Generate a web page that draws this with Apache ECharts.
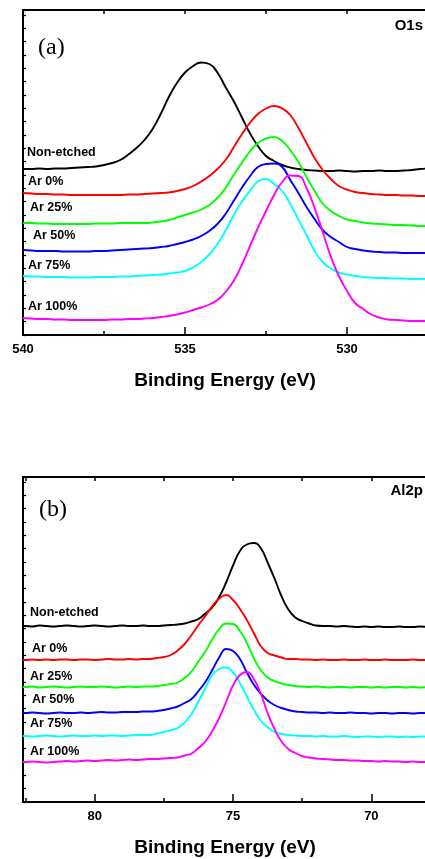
<!DOCTYPE html>
<html><head><meta charset="utf-8">
<script src="https://cdn.jsdelivr.net/npm/echarts@6/dist/echarts.min.js"></script>
<style>html,body{margin:0;padding:0;background:#fff}#c{width:425px;height:859px}</style>
</head><body><div id="c"></div>
<script>
// ---------- Panel (a): O1s ----------
const o1sEnergy = [540,539.75,539.5,539.25,539,538.75,538.5,538.25,538,537.75,
  537.5,537.25,537,536.75,536.5,536.25,536,535.75,535.5,535.25,
  535,534.75,534.5,534.25,534,533.75,533.5,533.25,533,532.75,
  532.5,532.25,532,531.75,531.5,531.25,531,530.75,530.5,530.25,
  530,529.75,529.5,529.25,529,528.75,528.5,528.25,528,527.75,
  527.5];
const o1sNonEtched = [166,166,166.5,166,166.5,166.5,167,167.5,168,168.5,
  170,172,175,180.5,187,195,206,221,238,252,
  262.5,269,272.5,271,262.5,248,234,218,202,189,
  179,174,170,167.5,166,165,164.5,164,164,164.5,
  164,163.5,164,164,164.5,164,164,164.5,165,166,
  166.5];
const o1sAr0 = [142,141.5,141,141,140.5,140.5,140,140,140,140,
  140,140,140,140.5,140.5,141,141.5,142,142.5,144,
  146,149,153.5,159,166,175,187.5,200.5,212,221,
  226.5,229,226.5,220,207,192,177,165,156,149,
  145.5,143,142,141,140.5,140,140,139.5,139.5,139,
  139];
const o1sAr25 = [112,112,111.5,111.5,111,111,111,111,111,111.5,
  111.5,111.5,112,112,112,112,112.5,113.5,115,117.5,
  120,122.5,125.5,130,137,147,160,172,183.5,192,
  196.5,198,194,185,173,158,144,131.5,124,119,
  115.5,114,112.5,111.5,111,110.5,110,110,109.5,109,
  109];
const o1sAr50 = [85,84.5,84,84,84,83.5,83.5,83.5,83.5,84,
  84,84.5,85,85.5,86,86.5,87,88,89,91,
  93,95.5,99,104,111,121,134,147,158.5,168,
  171,171.5,168,155,142,128,116,105,98,93,
  88,86,84.5,83.5,83,82.5,82.5,82,82,82,
  82];
const o1sAr75 = [59,58.5,58.5,58,58,58,57.5,57.5,57.5,58,
  58,58,58.5,58.5,59,59.5,60,60.5,61.5,62.5,
  64,67.5,73,80.5,91,104.5,119.5,133,144,153.5,
  156,151,144,131,115.5,100,84,73,66.5,62.5,
  60.5,59,58,57.5,57,57,56.5,56.5,56,56,
  56];
const o1sAr100 = [17,16.5,16,16,15.5,15.5,15,15,15,15,
  15,15.5,15.5,16,16,16.5,17,18,19,20.5,
  22.5,25,27.5,30.5,35,43,54,70,88.5,107,
  124,140,153,159.5,159,147,127,103,78.5,59,
  44,32,26,20.5,17.5,15.5,15,14.5,14,14,
  14];

// ---------- Panel (b): Al2p ----------
const al2pEnergy = [82.6,82.5,82.25,82,81.75,81.5,81.25,81,80.75,80.5,
  80.25,80,79.75,79.5,79.25,79,78.75,78.5,78.25,78,
  77.75,77.5,77.25,77,76.75,76.5,76.25,76,75.75,75.5,
  75.25,75,74.75,74.5,74.25,74,73.75,73.5,73.25,73,
  72.75,72.5,72.25,72,71.75,71.5,71.25,71,70.75,70.5,
  70.25,70,69.75,69.5,69.25,69,68.75,68.5,68.25,68];
const al2pNonEtched = [176,176,175.5,176.5,176,175.5,176,176.5,176,175.5,
  176,176.5,176,175.5,176,176.5,176,176,176.5,176,
  176,176.5,177,177.5,178.5,180.5,183,188.5,194.5,205,
  219.5,236.5,251,257.5,259,254,239.5,223.5,206,192.5,
  184.5,181,178.5,176.5,176,176,175.5,176,175.5,175,
  175.5,175,175.5,175,175,175.5,175,175,175.5,175];
const al2pAr0 = [142,142,142.5,142,142.5,142,142.5,142.5,142,142.5,
  142.5,142,142.5,143,142.5,142.5,143,142.5,143,143,
  144,145,147,151.5,158,167,177,186,196,203.5,
  207,202,193,182,169,156,149,146.5,144.5,143,
  143,142.5,142.5,142,142.5,142,142,142.5,142,142,
  142.5,142,142,142.5,142,142,142,142.5,142,142];
const al2pAr25 = [115,115,115.5,114.5,115,115.5,115,114.5,115,115.5,
  115,115,115.5,115,114.5,115,115.5,115,115.5,115.5,
  116,117,118,119.5,124,130.5,140.5,150.5,162.5,173,
  178.5,178,171,159,144,132,124.5,121,118.5,117,
  116,115.5,115,115.5,115,114.5,115,115,114.5,115,
  115,114.5,115,114.5,115,115,114.5,115,114.5,115];
const al2pAr50 = [89,89,89.5,89,88.5,89,89.5,89,89,89.5,
  89,89.5,90,89.5,89.5,90,90,90,90.5,90.5,
  91,92,93.5,95.5,99,103,111,120,132,144.5,
  153,151,143,129.5,117.5,108.5,101.5,97,94,92,
  90.5,90,89.5,89.5,89,89.5,89,89,89.5,89,
  89,88.5,89,89,88.5,89,89,88.5,89,89];
const al2pAr75 = [66,66,65.5,66,66.5,66,65.5,66,66.5,66,
  66,66.5,66,66.5,66.5,66,66.5,67,67,67,
  68.5,70,72,74,79.5,88,100.5,113.5,127,133,
  134.5,129.5,119,105.5,92.5,81.5,75,70,68,67,
  66.5,66,66,65.5,66,65.5,65.5,66,65.5,65,
  65.5,65.5,65,65.5,65.5,65,65.5,65,65.5,65.5];
const al2pAr100 = [40,40,40.5,40,39.5,40,40.5,41,40.5,41,
  41.5,41,41.5,42,41.5,42,42.5,42,42.5,43,
  43,43.5,44,44.5,46.5,48.5,54,60.5,71,84,
  100,116.5,127,130,123,108.5,89,73,60.5,53,
  49,46,44.5,43.5,43,42.5,42,42,41.5,41.5,
  41,41,40.5,41,40.5,40.5,40,40.5,40,40];

const seriesNames = ['Non-etched','Ar 0%','Ar 25%','Ar 50%','Ar 75%','Ar 100%'];
const seriesColors = ['#000000','#ff0000','#00ff00','#0000ff','#00ffff','#ff00ff'];
const o1sSeries = [o1sNonEtched,o1sAr0,o1sAr25,o1sAr50,o1sAr75,o1sAr100];
const al2pSeries = [al2pNonEtched,al2pAr0,al2pAr25,al2pAr50,al2pAr75,al2pAr100];
const o1sTickLabels = [540,535,530];
const al2pTickLabels = [80,75,70];

// ---------- layout ----------
const FONT = '"Liberation Sans", Arial, Helvetica, sans-serif';
const pxPerEvA = 32.4, pxPerEvB = 27.67;
const gA = {left:23, top:10, width:(540-525)*pxPerEvA, height:325};
const gB = {left:23, top:477, width:(82.59-65)*pxPerEvB, height:325};

function mkGrid(g){ return Object.assign({containLabel:false, outerBoundsMode:'none'}, g); }

function majorX(gi, min, max, labels){
  return {gridIndex:gi, type:'value', inverse:true, min:min, max:max, interval:5, position:'bottom',
    axisLine:{show:true, onZero:false, lineStyle:{color:'#000', width:2}},
    axisTick:{show:true, inside:true, length:8, lineStyle:{color:'#000', width:1.5}},
    minorTick:{show:false}, splitLine:{show:false},
    axisLabel:{show:true, margin:8, color:'#000', fontWeight:'bold', fontSize:13, fontFamily:FONT,
      formatter:function(v){ return labels.indexOf(Math.round(v*100)/100)>=0 ? String(v) : ''; }}};
}
function topX(gi, min, max){
  return {gridIndex:gi, type:'value', inverse:true, min:min, max:max, interval:2.5, position:'top',
    axisLine:{show:true, onZero:false, lineStyle:{color:'#000', width:2}},
    axisTick:{show:true, inside:true, length:4, lineStyle:{color:'#000', width:1.5}},
    axisLabel:{show:false}, splitLine:{show:false}};
}
function minorX(gi, min, max){
  return {gridIndex:gi, type:'value', inverse:true, min:min, max:max, interval:2.5, position:'bottom',
    axisLine:{show:false, onZero:false},
    axisTick:{show:true, inside:true, length:4, lineStyle:{color:'#000', width:1.5}},
    axisLabel:{show:false}, splitLine:{show:false}};
}
function leftY(gi){
  return {gridIndex:gi, type:'value', min:0, max:325, interval:40/3, position:'left',
    axisLine:{show:true, onZero:false, lineStyle:{color:'#000', width:2}},
    axisTick:{show:true, inside:true, length:3, lineStyle:{color:'#000', width:1.2}},
    axisLabel:{show:false}, splitLine:{show:false}};
}
function hiddenY(gi){ return {gridIndex:gi, type:'value', min:0, max:325, show:false}; }

const series = [];
o1sSeries.forEach(function(vals, i){
  series.push({name:'O1s '+seriesNames[i], type:'line', xAxisIndex:0, yAxisIndex:0,
    data: o1sEnergy.map(function(e,k){ return [e, vals[k]]; }),
    showSymbol:false, smooth:0.5, lineStyle:{color:seriesColors[i], width:1.9}, itemStyle:{color:seriesColors[i]}});
});
al2pSeries.forEach(function(vals, i){
  series.push({name:'Al2p '+seriesNames[i], type:'line', xAxisIndex:3, yAxisIndex:2,
    data: al2pEnergy.map(function(e,k){ return [e, vals[k]]; }),
    showSymbol:false, smooth:0.5, lineStyle:{color:seriesColors[i], width:1.9}, itemStyle:{color:seriesColors[i]}});
});

function txt(x, y, s, font, align){
  return {type:'text', x:x, y:y, z:100, style:{text:s, font:font, fill:'#000',
    align:align||'left', verticalAlign:'middle', textAlign:align||'left', textVerticalAlign:'middle'}};
}
const LBL = 'bold 12.5px ' + FONT;
const labelPosA = [[27,153],[28,182],[30,208],[33,236],[28,266],[28,307]];
const labelPosB = [[30,613],[32,648.5],[30,677],[32,700],[30,724],[30,752]];
const graphics = [];
seriesNames.forEach(function(n,i){ graphics.push(txt(labelPosA[i][0], labelPosA[i][1], n, LBL)); });
seriesNames.forEach(function(n,i){ graphics.push(txt(labelPosB[i][0], labelPosB[i][1], n, LBL)); });
graphics.push(txt(38, 48, '(a)', '24px "Liberation Serif", "Times New Roman", serif'));
graphics.push(txt(39, 510, '(b)', '24px "Liberation Serif", "Times New Roman", serif'));
graphics.push(txt(423, 26, 'O1s', 'bold 15px ' + FONT, 'right'));
graphics.push(txt(423, 491, 'Al2p', 'bold 15px ' + FONT, 'right'));
graphics.push(txt(225, 381, 'Binding Energy (eV)', 'bold 19px ' + FONT, 'center'));
graphics.push(txt(225, 848, 'Binding Energy (eV)', 'bold 19px ' + FONT, 'center'));

const chart = echarts.init(document.getElementById('c'), null, {renderer:'canvas'});
chart.setOption({
  animation:false,
  backgroundColor:'#ffffff',
  grid:[mkGrid(gA), mkGrid(gA), mkGrid(gB), mkGrid(gB)],
  xAxis:[
    majorX(0, 525, 540, o1sTickLabels), topX(0, 525, 540), minorX(1, 525, 540),
    majorX(2, 65, 82.59, al2pTickLabels), topX(2, 65, 82.59), minorX(3, 65, 82.59)
  ],
  yAxis:[leftY(0), hiddenY(1), leftY(2), hiddenY(3)],
  series: series,
  graphic: graphics
});
</script></body></html>
